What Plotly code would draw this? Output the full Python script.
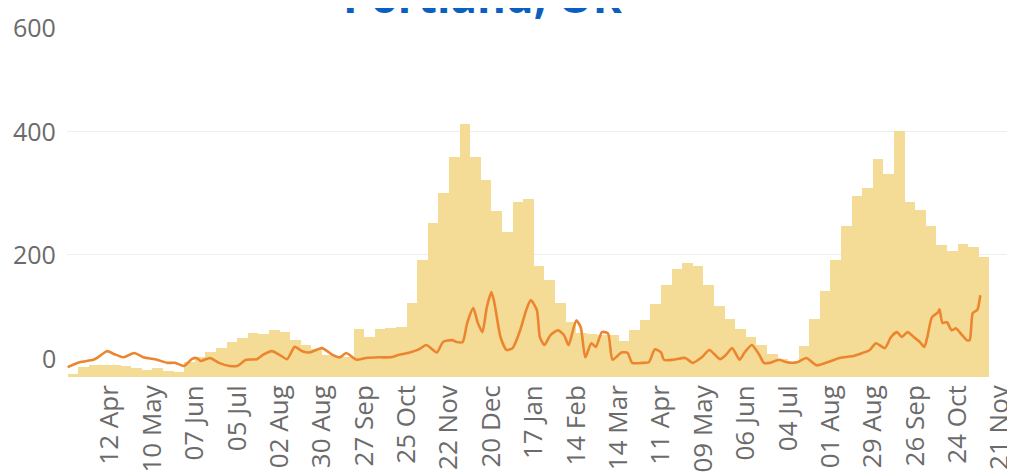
import pandas as pd
import plotly.graph_objects as go

# weekly bars (week starting on the date)
bar_values = [5, 16, 19, 19, 19, 18, 15, 12, 14, 10, 8, 25, 33, 40, 47, 57, 63, 71, 70, 76,
              73, 60, 52, 45, 35, 33, 32, 78, 65, 78, 80, 82, 120, 190, 250, 300, 357, 412, 358, 320,
              270, 235, 285, 290, 180, 157, 120, 90, 72, 70, 68, 68, 58, 76, 92, 118, 150, 175, 186, 180,
              150, 115, 95, 78, 65, 52, 38, 30, 25, 50, 95, 140, 190, 245, 295, 308, 355, 330, 400, 285,
              272, 245, 215, 205, 217, 211, 195]
bar_weeks = pd.date_range("2020-03-15", periods=len(bar_values), freq="7D")

line_dates = ["2020-03-15", "2020-03-23", "2020-04-01", "2020-04-04", "2020-04-10", "2020-04-15",
              "2020-04-21", "2020-04-28", "2020-05-04", "2020-05-13", "2020-05-20", "2020-05-25",
              "2020-05-31", "2020-06-05", "2020-06-08", "2020-06-11", "2020-06-17", "2020-06-23",
              "2020-06-30", "2020-07-05", "2020-07-11", "2020-07-18", "2020-07-22", "2020-07-28",
              "2020-08-02", "2020-08-07", "2020-08-12", "2020-08-17", "2020-08-22", "2020-08-30",
              "2020-09-06", "2020-09-11", "2020-09-15", "2020-09-22", "2020-09-28", "2020-10-07",
              "2020-10-14", "2020-10-20", "2020-10-27", "2020-11-02", "2020-11-07", "2020-11-14",
              "2020-11-18", "2020-11-24", "2020-11-27", "2020-12-01", "2020-12-04", "2020-12-08",
              "2020-12-11", "2020-12-14", "2020-12-17", "2020-12-20", "2020-12-22", "2020-12-26",
              "2020-12-30", "2021-01-03", "2021-01-08", "2021-01-12", "2021-01-15", "2021-01-19",
              "2021-01-21", "2021-01-24", "2021-01-28", "2021-02-02", "2021-02-06", "2021-02-09",
              "2021-02-14", "2021-02-17", "2021-02-20", "2021-02-24", "2021-02-27", "2021-03-03",
              "2021-03-07", "2021-03-10", "2021-03-16", "2021-03-20", "2021-03-23", "2021-03-30",
              "2021-04-03", "2021-04-07", "2021-04-11", "2021-04-13", "2021-04-19", "2021-04-27",
              "2021-05-02", "2021-05-08", "2021-05-13", "2021-05-20", "2021-05-24", "2021-05-28",
              "2021-06-02", "2021-06-05", "2021-06-10", "2021-06-15", "2021-06-18", "2021-06-22",
              "2021-06-28", "2021-07-03", "2021-07-10", "2021-07-16", "2021-07-23", "2021-07-30",
              "2021-08-07", "2021-08-16", "2021-08-22", "2021-08-27", "2021-08-31", "2021-09-06",
              "2021-09-10", "2021-09-14", "2021-09-17", "2021-09-21", "2021-09-25", "2021-09-29",
              "2021-10-02", "2021-10-04", "2021-10-07", "2021-10-11", "2021-10-12", "2021-10-14",
              "2021-10-17", "2021-10-20", "2021-10-23", "2021-10-27", "2021-10-30", "2021-11-01",
              "2021-11-03", "2021-11-06", "2021-11-08"]
line_values = [16, 24, 28, 32, 42, 37, 32, 39, 32, 28, 23, 23,
               18, 29, 31, 26, 31, 23, 18, 18, 28, 29, 36, 42,
               36, 29, 49, 42, 40, 47, 36, 32, 39, 28, 31, 32,
               32, 36, 40, 45, 52, 40, 57, 60, 57, 57, 88, 112,
               88, 73, 114, 138, 120, 65, 44, 47, 76, 109, 125, 109,
               65, 52, 68, 76, 68, 52, 92, 81, 32, 55, 49, 73,
               71, 28, 40, 39, 23, 23, 24, 45, 40, 28, 28, 31,
               23, 32, 44, 29, 36, 47, 28, 39, 52, 36, 23, 23,
               28, 24, 24, 31, 19, 24, 31, 34, 39, 44, 55, 47,
               65, 73, 65, 73, 65, 57, 49, 65, 97, 105, 110, 88,
               89, 76, 79, 68, 60, 60, 104, 109, 133]

x_ticks = pd.date_range("2020-04-12", periods=22, freq="28D")
y_ticks = [0, 200, 400, 600]
y_anchor = ["bottom", "middle", "middle", "top"]

fig = go.Figure()
fig.add_trace(go.Bar(
    x=bar_weeks, y=bar_values,
    width=7 * 86400000, offset=0,
    marker=dict(color="#f5dc96", line=dict(width=0)),
    name="bars"
))
fig.add_trace(go.Scatter(
    x=line_dates, y=line_values,
    mode="lines",
    line=dict(color="#ec8530", width=2.6, shape="spline", smoothing=0.6),
    name="line"
))

for v, a in zip(y_ticks, y_anchor):
    fig.add_annotation(x=0, xref="paper", y=v, yref="y", text=str(v),
                       xanchor="right", yanchor=a, xshift=-9, showarrow=False,
                       font=dict(family="Open Sans", size=25, color="#6b6b6b"))

# title, cut at the top of the window, with its white box over the top gridline
fig.add_shape(type="rect", xref="paper", yref="paper",
              x0=0.1329, x1=0.7416, y0=0.984, y1=1.1,
              fillcolor="white", line=dict(width=0), layer="above")
fig.add_annotation(x=0.4388, xref="paper", y=0.9458, yref="paper",
                   text="<b>Portland, OR</b>", xanchor="center", yanchor="bottom",
                   showarrow=False,
                   font=dict(family="Open Sans", size=44, color="#0a5fc0"))

fig.update_layout(
    width=1015, height=476,
    margin=dict(l=59, r=8, t=0, b=107),
    paper_bgcolor="white", plot_bgcolor="white",
    bargap=0, showlegend=False,
    font=dict(family="Open Sans", size=24, color="#6b6b6b")
)
fig.update_xaxes(
    type="date",
    range=["2020-03-14 14:00", "2021-11-30 22:00"],
    tickvals=x_ticks, tickformat="%d %b", tickangle=-90,
    ticklabelstandoff=2,
    showgrid=False, zeroline=False, showline=False, ticks="",
    tickfont=dict(family="Open Sans", size=26, color="#6b6b6b")
)
fig.update_yaxes(
    range=[0, 600], tickvals=y_ticks, showticklabels=False,
    showgrid=True, gridcolor="#eeeeee", gridwidth=1,
    zeroline=False, showline=False
)

fig.write_html("out.html")
